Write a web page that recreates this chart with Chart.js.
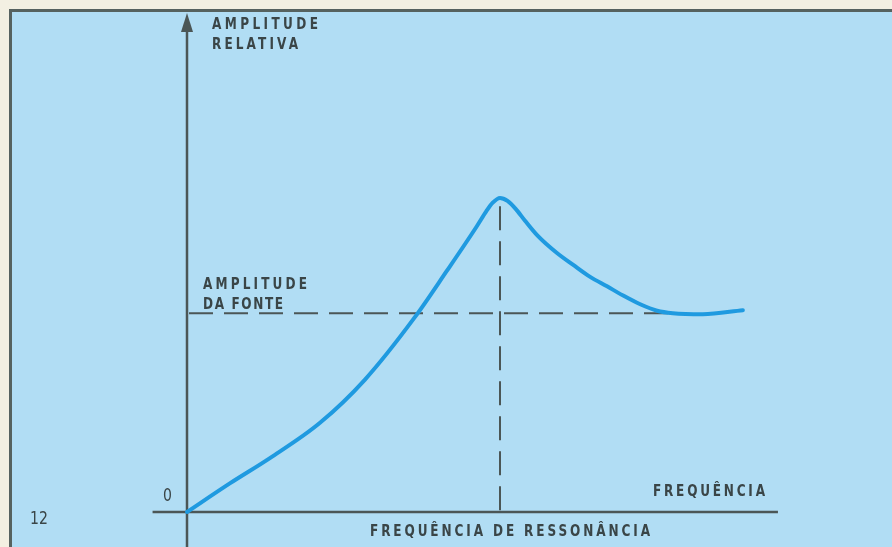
<!DOCTYPE html>
<html>
<head>
<meta charset="utf-8">
<script src="https://cdn.jsdelivr.net/npm/chart.js@4"></script>
<style>
  html, body { margin: 0; padding: 0; background: #f3f0e2; }
  canvas { display: block; }
</style>
</head>
<body>
<canvas id="ressonancia" width="892" height="547"></canvas>
<script>
// curva de ressonância (frequência x amplitude relativa)
const frequencia = [0, 0.69, 1.33, 2.12, 2.84, 3.64, 4.15, 4.63, 4.78, 4.88, 5.0, 5.12, 5.25, 5.4, 5.6, 5.91, 6.17, 6.44, 6.71, 6.96, 7.24, 7.51, 7.76, 8.24, 8.88];
const amplitude = [0, 0.58, 1.09, 1.79, 2.66, 3.92, 4.85, 5.75, 6.05, 6.22, 6.32, 6.26, 6.1, 5.86, 5.56, 5.21, 4.97, 4.73, 4.54, 4.36, 4.18, 4.05, 4.0, 3.98, 4.06];

// linhas tracejadas
const freqRessonancia = 5.0;
const amplitudeFonte = 4.0;
const fimTracejado = 7.7; // onde a linha da fonte encontra a curva

// textos
const rotuloEixoY = ["AMPLITUDE", "RELATIVA"];
const rotuloFonte = ["AMPLITUDE", "DA FONTE"];
const rotuloEixoX = "FREQUÊNCIA";
const rotuloRessonancia = "FREQUÊNCIA DE RESSONÂNCIA";
const rotuloOrigem = "0";
const numeroFigura = "12";

const corTexto = "#3a4547";
const corEixo = "#4b5656";
const fonteRotulo = 'bold 15.5px "DejaVu Sans", sans-serif';
const fonteNumero = '18px "DejaVu Sans", sans-serif';

// escreve o texto estreitado, espaçando as letras até a largura pedida
function textoEspacado(ctx, txt, x, y, largura, fonte) {
  const aperto = 0.78;
  ctx.save();
  ctx.font = fonte || fonteRotulo;
  ctx.letterSpacing = "0px";
  const w = ctx.measureText(txt).width * aperto;
  const n = txt.length;
  const esp = n > 1 ? (largura - w) / (n - 1) : 0;
  ctx.translate(x, y);
  ctx.scale(aperto, 1);
  ctx.letterSpacing = esp / aperto + "px";
  ctx.textAlign = "left";
  ctx.fillText(txt, 0, 0);
  ctx.restore();
}

// fundo azul com moldura
const fundo = {
  id: "fundo",
  beforeDraw(chart) {
    const ctx = chart.ctx;
    const w = chart.width, h = chart.height;
    ctx.save();
    ctx.fillStyle = "#f3f0e2";
    ctx.fillRect(0, 0, w, h);
    ctx.fillStyle = "#b1ddf4";
    ctx.fillRect(10, 10, w - 10, h - 10);
    ctx.strokeStyle = "#56625f";
    ctx.lineWidth = 3;
    ctx.beginPath();
    ctx.moveTo(10.5, h);
    ctx.lineTo(10.5, 10.5);
    ctx.lineTo(w, 10.5);
    ctx.stroke();
    ctx.restore();
  },
};

// eixos, tracejados e textos
const eixos = {
  id: "eixos",
  beforeDatasetsDraw(chart) {
    const ctx = chart.ctx;
    const x = chart.scales.x, y = chart.scales.y;
    const x0 = x.getPixelForValue(0);
    const y0 = y.getPixelForValue(0);
    ctx.save();

    // tracejados
    ctx.strokeStyle = corEixo;
    ctx.lineWidth = 2;
    ctx.setLineDash([24, 11]);
    ctx.beginPath();
    ctx.moveTo(x0 + 2, y.getPixelForValue(amplitudeFonte));
    ctx.lineTo(x.getPixelForValue(fimTracejado), y.getPixelForValue(amplitudeFonte));
    ctx.stroke();
    ctx.beginPath();
    ctx.moveTo(x.getPixelForValue(freqRessonancia), y.getPixelForValue(6.15));
    ctx.lineTo(x.getPixelForValue(freqRessonancia), y0);
    ctx.stroke();
    ctx.setLineDash([]);

    // eixos
    ctx.lineWidth = 2.5;
    ctx.beginPath();
    ctx.moveTo(x.getPixelForValue(-0.55), y0);
    ctx.lineTo(x.getPixelForValue(9.44), y0);
    ctx.stroke();
    ctx.beginPath();
    ctx.moveTo(x0, chart.height);
    ctx.lineTo(x0, 28);
    ctx.stroke();
    ctx.fillStyle = corEixo;
    ctx.beginPath();
    ctx.moveTo(x0, 13);
    ctx.lineTo(x0 - 6, 32);
    ctx.lineTo(x0 + 6, 32);
    ctx.closePath();
    ctx.fill();

    // textos
    ctx.fillStyle = corTexto;
    textoEspacado(ctx, rotuloEixoY[0], 212, 29, 106);
    textoEspacado(ctx, rotuloEixoY[1], 212, 49, 86);
    textoEspacado(ctx, rotuloFonte[0], 203, 289, 104);
    textoEspacado(ctx, rotuloFonte[1], 203, 309, 80);
    textoEspacado(ctx, rotuloEixoX, 653, 496, 112);
    textoEspacado(ctx, rotuloRessonancia, 370, 536, 280);
    textoEspacado(ctx, rotuloOrigem, 163, 501, 9, fonteNumero);
    textoEspacado(ctx, numeroFigura, 30, 524, 18, fonteNumero);
    ctx.restore();
  },
};

new Chart(document.getElementById("ressonancia"), {
  type: "line",
  data: {
    datasets: [
      {
        label: "Amplitude relativa",
        data: frequencia.map((f, i) => ({ x: f, y: amplitude[i] })),
        borderColor: "#1f9ae0",
        borderWidth: 4,
        pointRadius: 0,
        fill: false,
        cubicInterpolationMode: "monotone",
        borderCapStyle: "round",
        clip: false,
      },
    ],
  },
  options: {
    responsive: false,
    animation: false,
    layout: {
      padding: { left: 187, right: 79, top: 15, bottom: 35 },
    },
    scales: {
      x: { type: "linear", min: 0, max: 10, display: false },
      y: { type: "linear", min: 0, max: 10, display: false },
    },
    plugins: {
      legend: { display: false },
      tooltip: { enabled: false },
    },
  },
  plugins: [fundo, eixos],
});
</script>
</body>
</html>
